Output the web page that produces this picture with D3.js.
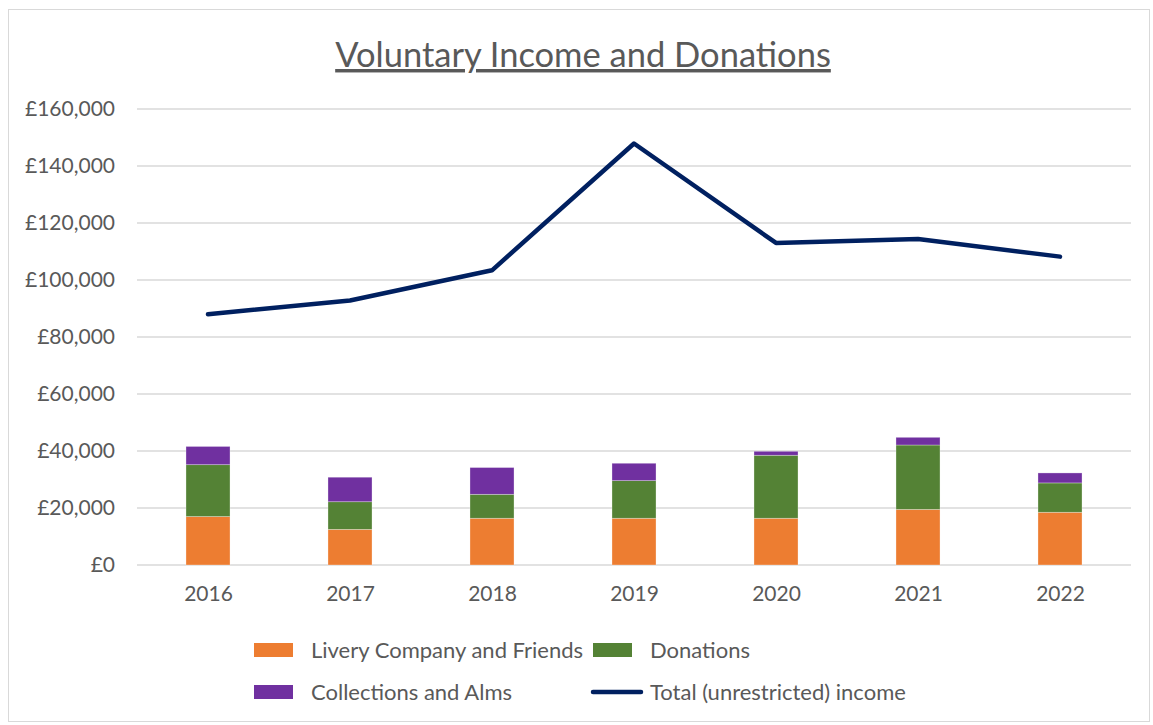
<!DOCTYPE html>
<html>
<head>
  <meta charset="utf-8">
  <title>Voluntary Income and Donations</title>
  <script src="https://d3js.org/d3.v7.min.js"></script>
  <style>
    body { margin: 0; background: #fff; }
    text { font-family: Lato, "Open Sans", sans-serif; fill: #595959; }
  </style>
</head>
<body>
  <svg id="chart" width="1153" height="725"></svg>

  <script>
    // Datos
    const years = ["2016", "2017", "2018", "2019", "2020", "2021", "2022"];
    const livery = [17000, 12500, 16400, 16400, 16400, 19500, 18500];
    const donations = [18200, 9700, 8400, 13200, 22100, 22600, 10300];
    const collections = [6400, 8600, 9400, 6100, 1400, 2700, 3500];
    const totalIncome = [88000, 92800, 103400, 147900, 113000, 114400, 108200];
    const yTicks = [0, 20000, 40000, 60000, 80000, 100000, 120000, 140000, 160000];

    const seriesNames = ["Livery Company and Friends", "Donations", "Collections and Alms"];
    const lineName = "Total (unrestricted) income";
    const colors = ["#ED7D31", "#548235", "#7030A0"];
    const lineColor = "#002060";

    const width = 1153;
    const height = 725;
    const margin = { top: 109, right: 22, bottom: 160, left: 137 };
    const svg = d3.select("#chart");

    // Borde del área del gráfico
    svg.append("rect")
      .attr("x", 8.5).attr("y", 9.5)
      .attr("width", 1141).attr("height", 712)
      .attr("fill", "#fff")
      .attr("stroke", "#d9d9d9")
      .attr("stroke-width", 1);

    // Escalas
    const xScale = d3.scaleBand().domain(years).range([margin.left, width - margin.right]).paddingInner(0.69).paddingOuter(0.345);
    const xCenter = d3.scalePoint().domain(years).range([margin.left, width - margin.right]).padding(0.5);
    const yScale = d3.scaleLinear().domain([0, 160000]).range([height - margin.bottom, margin.top]);

    // Líneas de cuadrícula
    svg.append("g")
      .selectAll("line")
      .data(yTicks)
      .enter()
      .append("line")
      .attr("x1", margin.left)
      .attr("x2", width - margin.right)
      .attr("y1", (d) => yScale(d))
      .attr("y2", (d) => yScale(d))
      .attr("stroke", "#d9d9d9")
      .attr("stroke-width", 1.5);

    // Barras apiladas
    const table = years.map((y, i) => ({ year: y, a: livery[i], b: donations[i], c: collections[i] }));
    const stack = d3.stack().keys(["a", "b", "c"])(table);

    svg.append("g")
      .selectAll("g")
      .data(stack)
      .enter()
      .append("g")
      .attr("fill", (d, i) => colors[i])
      .selectAll("rect")
      .data((d) => d)
      .enter()
      .append("rect")
      .attr("x", (d) => xScale(d.data.year))
      .attr("y", (d) => yScale(d[1]))
      .attr("width", xScale.bandwidth())
      .attr("height", (d) => yScale(d[0]) - yScale(d[1]))
      .attr("stroke", "#fff")
      .attr("stroke-opacity", 0.4)
      .attr("stroke-width", 0.75);

    // Línea del total
    const line = d3.line()
      .x((d, i) => xCenter(years[i]))
      .y((d) => yScale(d));

    svg.append("path")
      .datum(totalIncome)
      .attr("d", line)
      .attr("fill", "none")
      .attr("stroke", lineColor)
      .attr("stroke-width", 4.5)
      .attr("stroke-linejoin", "round")
      .attr("stroke-linecap", "round");

    // Eje y
    const yAxis = d3.axisLeft(yScale)
      .tickValues(yTicks)
      .tickSize(0)
      .tickPadding(22)
      .tickFormat((d) => "£" + d3.format(",")(d));
    const gy = svg.append("g")
      .attr("transform", `translate(${margin.left},0)`)
      .call(yAxis);
    gy.select(".domain").remove();
    gy.selectAll("text").style("font-size", "21px").attr("fill", "#595959");

    // Eje x
    const xAxis = d3.axisBottom(xCenter).tickSize(0).tickPadding(21);
    const gx = svg.append("g")
      .attr("transform", `translate(0,${height - margin.bottom})`)
      .call(xAxis);
    gx.select(".domain").remove();
    gx.selectAll("text").style("font-size", "21px").attr("fill", "#595959");

    // Título
    svg.append("text")
      .attr("x", 583)
      .attr("y", 67)
      .attr("text-anchor", "middle")
      .style("font-size", "34.5px")
      .style("text-decoration", "underline")
      .text("Voluntary Income and Donations");

    // Leyenda
    const legend = [
      { name: seriesNames[0], color: colors[0], x: 254, y: 650, type: "rect" },
      { name: seriesNames[1], color: colors[1], x: 593, y: 650, type: "rect" },
      { name: seriesNames[2], color: colors[2], x: 254, y: 692, type: "rect" },
      { name: lineName, color: lineColor, x: 593, y: 692, type: "line" }
    ];

    const lg = svg.append("g")
      .selectAll("g")
      .data(legend)
      .enter()
      .append("g")
      .attr("transform", (d) => `translate(${d.x},${d.y})`);

    lg.filter((d) => d.type === "rect")
      .append("rect")
      .attr("x", 0).attr("y", -7)
      .attr("width", 39).attr("height", 14)
      .attr("fill", (d) => d.color);

    lg.filter((d) => d.type === "line")
      .append("line")
      .attr("x1", 0).attr("x2", 48)
      .attr("y1", 0).attr("y2", 0)
      .attr("stroke", (d) => d.color)
      .attr("stroke-width", 4.5)
      .attr("stroke-linecap", "round");

    lg.append("text")
      .attr("x", 57)
      .attr("y", 0)
      .attr("dy", "0.35em")
      .style("font-size", "22px")
      .text((d) => d.name);
  </script>
</body>
</html>
